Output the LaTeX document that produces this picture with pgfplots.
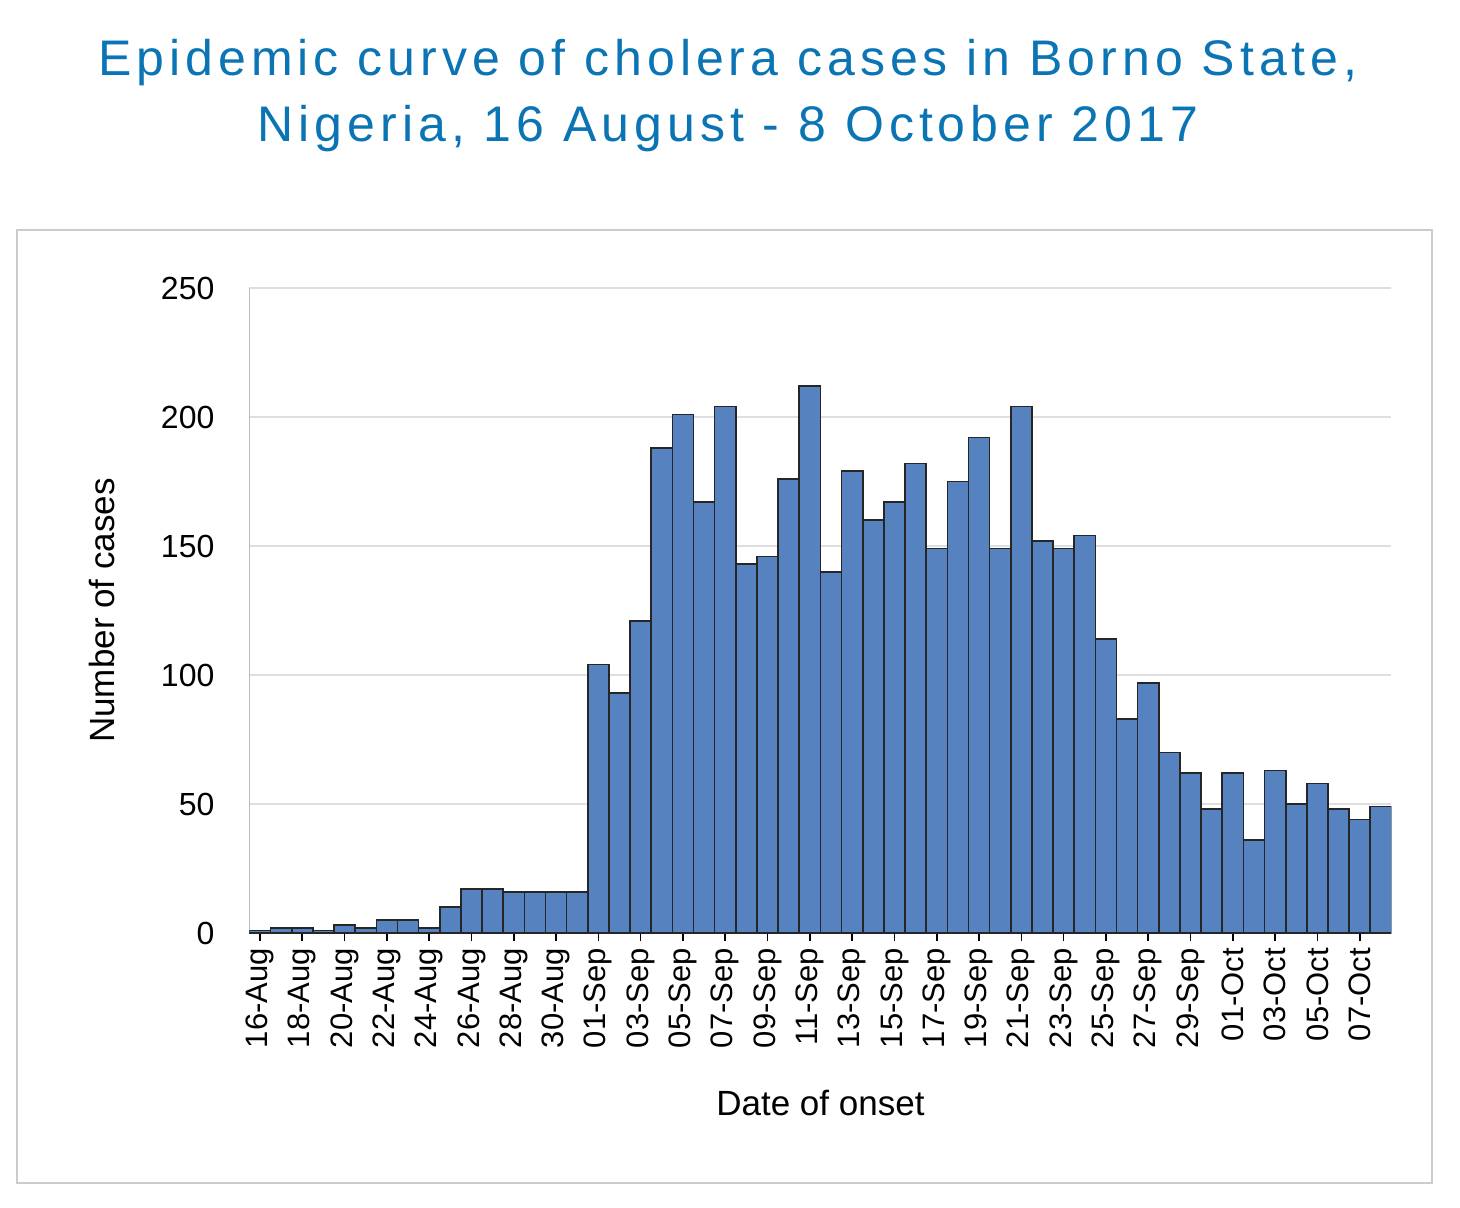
\documentclass[border=0pt]{standalone}
\usepackage{pgfplots}
\pgfplotsset{compat=1.18}
\usepackage{fontspec}
\setmainfont{Liberation Sans}
\newfontfamily\titlefont[LetterSpace=10]{Liberation Sans}
\definecolor{titleblue}{HTML}{0A74B4}
\definecolor{barblue}{HTML}{5682C0}
\begin{document}
\begin{tikzpicture}[x=1pt,y=1pt]
\path (0,0) rectangle (730,-604);
\draw[gray!40, line width=0.8pt] (8.5,-115) rectangle (716,-591.5);
\node[titleblue, font=\titlefont\fontsize{25}{33}\selectfont, align=center] at (364,-48) {Epidemic curve of cholera cases in Borno State,\\Nigeria, 16 August - 8 October 2017};
\begin{axis}[at={(130pt,-466.5pt)}, anchor=origin,
  scale only axis, width=571pt, height=322.5pt,
  xmin=-0.5, xmax=53.5, ymin=0, ymax=250,
  ytick={0,50,100,150,200,250},
  ymajorgrids, grid style={gray!25, line width=0.8pt},
  axis y line*=left, axis x line*=bottom,
  y axis line style={gray!50}, x axis line style={black, line width=0.8pt},
  ytick style={draw=none},
  xtick={0,2,...,52},
  xticklabels={16-Aug,18-Aug,20-Aug,22-Aug,24-Aug,26-Aug,28-Aug,30-Aug,01-Sep,03-Sep,05-Sep,07-Sep,09-Sep,11-Sep,13-Sep,15-Sep,17-Sep,19-Sep,21-Sep,23-Sep,25-Sep,27-Sep,29-Sep,01-Oct,03-Oct,05-Oct,07-Oct},
  xticklabel style={rotate=90, anchor=east, font=\fontsize{15.5}{17}\selectfont},
  yticklabel style={font=\fontsize{16}{18}\selectfont, xshift=-10pt},
  /pgf/number format/assume math mode=true,
  xtick style={black, line width=0.8pt}, tick align=outside, major tick length=4pt,
  xlabel={Date of onset}, ylabel={Number of cases},
  label style={font=\fontsize{17.5}{19}\selectfont},
  xlabel style={yshift=-14pt}, ylabel style={yshift=16pt},
]
\addplot[ybar, bar width=1, fill=barblue, draw=black!85, line width=0.8pt] coordinates {
(0,1)(1,2)(2,2)(3,1)(4,3)(5,2)(6,5)(7,5)(8,2)(9,10)(10,17)(11,17)(12,16)(13,16)(14,16)(15,16)
(16,104)(17,93)(18,121)(19,188)(20,201)(21,167)(22,204)(23,143)(24,146)(25,176)(26,212)(27,140)
(28,179)(29,160)(30,167)(31,182)(32,149)(33,175)(34,192)(35,149)(36,204)(37,152)(38,149)(39,154)
(40,114)(41,83)(42,97)(43,70)(44,62)(45,48)(46,62)(47,36)(48,63)(49,50)(50,58)(51,48)(52,44)(53,49)};
\end{axis}
\end{tikzpicture}
\end{document}
